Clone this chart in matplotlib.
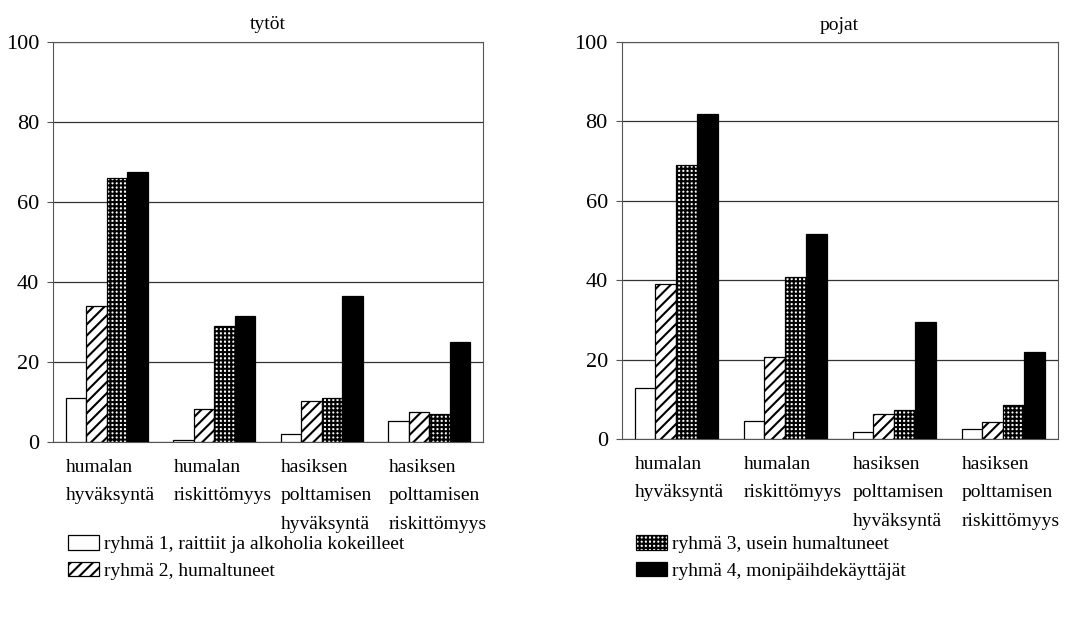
import matplotlib.pyplot as plt
import numpy as np

plt.rcParams['font.family'] = ['Liberation Serif', 'DejaVu Serif']
plt.rcParams['hatch.linewidth'] = 1.5

categories = ['humalan\nhyväksyntä', 'humalan\nriskittömyys',
              'hasiksen\npolttamisen\nhyväksyntä', 'hasiksen\npolttamisen\nriskittömyys']
groups = ['ryhmä 1, raittiit ja alkoholia kokeilleet', 'ryhmä 2, humaltuneet',
          'ryhmä 3, usein humaltuneet', 'ryhmä 4, monipäihdekäyttäjät']

# tytöt: rows = ryhmä 1..4, cols = categories
tytot = [
    [11.1, 0.4, 2.0, 5.2],
    [34.0, 8.2, 10.3, 7.4],
    [65.9, 29.0, 11.1, 7.1],
    [67.6, 31.5, 36.6, 25.1],
]
pojat = [
    [12.8, 4.6, 1.8, 2.5],
    [39.0, 20.6, 6.3, 4.4],
    [69.0, 40.9, 7.2, 8.5],
    [82.0, 51.6, 29.5, 22.0],
]
yticks = [0, 20, 40, 60, 80, 100]

styles = [
    dict(facecolor='white', hatch=None),
    dict(facecolor='white', hatch='///'),
    dict(facecolor='white', hatch='++++'),
    dict(facecolor='black', hatch=None),
]

fig = plt.figure(figsize=(10.7, 6.32), dpi=100)
ax1 = fig.add_axes([0.0495, 0.3006, 0.402, 0.633])
ax2 = fig.add_axes([0.581, 0.3054, 0.4075, 0.628])

x = np.arange(len(categories))
w = 0.19
handles = []
for ax, data, title in [(ax1, tytot, 'tytöt'), (ax2, pojat, 'pojat')]:
    for k, vals in enumerate(data):
        b = ax.bar(x + (k - 1.5) * w, vals, w, edgecolor='black', linewidth=0.9,
                   zorder=3, label=groups[k], **styles[k])
        if ax is ax1:
            handles.append(b)
    ax.set_xlim(-0.5, 3.5)
    ax.set_ylim(0, 100)
    ax.set_yticks(yticks)
    ax.set_yticklabels([str(t) for t in yticks], fontsize=16)
    ax.yaxis.grid(True, color='#333333', linewidth=0.9, zorder=0)
    ax.tick_params(axis='y', length=4, width=0.8, color='#555555', pad=6)
    ax.set_xticks(x - 2 * w)
    ax.set_xticklabels(categories, fontsize=14, ha='left', linespacing=1.9)
    ax.tick_params(axis='x', length=0, pad=12)
    for s in ax.spines.values():
        s.set_color('#555555')
        s.set_linewidth(0.8)
    ax.set_title(title, fontsize=14, pad=9)

leg_kw = dict(loc='upper left', frameon=False, fontsize=14, handlelength=1.6,
              handleheight=0.75, handletextpad=0.25, labelspacing=0.45,
              borderaxespad=0)
fig.legend(handles[:2], groups[:2], bbox_to_anchor=(0.056, 0.165), **leg_kw)
fig.legend(handles[2:], groups[2:], bbox_to_anchor=(0.587, 0.165), **leg_kw)

fig.savefig('out.png', dpi=100)
